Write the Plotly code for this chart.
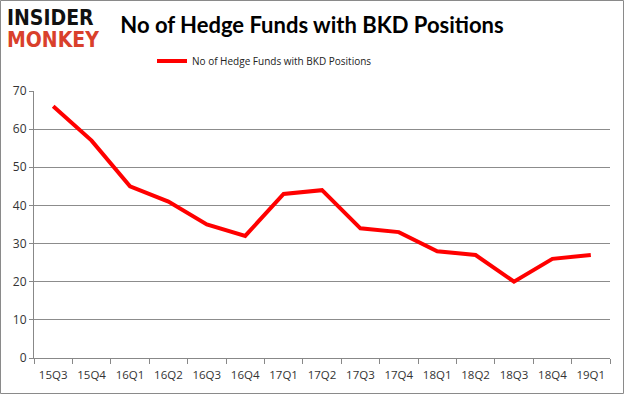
import plotly.graph_objects as go

quarters = ["15Q3", "15Q4", "16Q1", "16Q2", "16Q3", "16Q4", "17Q1", "17Q2",
            "17Q3", "17Q4", "18Q1", "18Q2", "18Q3", "18Q4", "19Q1"]
hedge_funds = [66, 57, 45, 41, 35, 32, 43, 44, 34, 33, 28, 27, 20, 26, 27]
y_ticks = [0, 10, 20, 30, 40, 50, 60, 70]
series_name = "No of Hedge Funds with BKD Positions"

W, H = 625, 395
ml, mr, mt, mb = 34, 15, 91, 37
pw, ph = W - ml - mr, H - mt - mb

fig = go.Figure()
fig.add_trace(go.Scatter(
    x=quarters, y=hedge_funds, mode="lines", name=series_name,
    line=dict(color="#FF0000", width=4),
))

fig.update_layout(
    width=W, height=H,
    margin=dict(l=ml, r=mr, t=mt, b=mb, autoexpand=False),
    paper_bgcolor="white", plot_bgcolor="white",
    font=dict(family="Open Sans, DejaVu Sans, sans-serif", size=12, color="#404040"),
    showlegend=True,
    legend=dict(orientation="h", x=(152 - ml) / pw, xanchor="left", y=1 + (91 - 61) / ph,
                yanchor="middle", font=dict(size=10, color="#222"), itemwidth=30),
    xaxis=dict(type="category", range=[-0.5, 14.5], showgrid=False, automargin=False,
               showline=True, linecolor="#888", linewidth=1, tickangle=0,
               ticks="outside", tickson="boundaries", ticklen=5, tickcolor="#888",
               ticklabelstandoff=6,
               tickfont=dict(size=11.5, color="#333")),
    yaxis=dict(range=[0, 70], tickvals=y_ticks, showgrid=True, gridcolor="#8c8c8c",
               gridwidth=1, showline=True, linecolor="#888", linewidth=1, automargin=False,
               ticks="outside", ticklen=4, tickcolor="#888", zeroline=False,
               tickfont=dict(size=12, color="#333")),
    title=dict(text="<b>No of Hedge Funds with BKD Positions</b>", x=312 / W, xanchor="center",
               y=1 - 25 / H, yanchor="middle",
               font=dict(family="Lato, Open Sans, sans-serif", size=22, color="#000")),
)

# logo
fig.add_annotation(xref="paper", yref="paper", x=-29 / pw, y=1 + (91 - 18) / ph,
                   xanchor="left", yanchor="middle", showarrow=False,
                   text="<b>INSIDER</b>",
                   font=dict(family="DejaVu Sans Condensed, DejaVu Sans, sans-serif", size=21, color="#111"))
fig.add_annotation(xref="paper", yref="paper", x=-29 / pw, y=1 + (91 - 40) / ph,
                   xanchor="left", yanchor="middle", showarrow=False,
                   text="<b>MONKEY</b>",
                   font=dict(family="DejaVu Sans Condensed, DejaVu Sans, sans-serif", size=21, color="#D9402B"))

# outer border
fig.add_shape(type="rect", xref="paper", yref="paper",
              x0=-(ml - 0.5) / pw, x1=1 + (mr - 1.5) / pw,
              y0=-(mb - 1.5) / ph, y1=1 + (mt - 0.5) / ph,
              line=dict(color="#8a8a8a", width=1))

fig.write_html("out.html", config={"displayModeBar": False},
               post_script="document.body.style.margin='0';document.body.style.overflow='hidden';")
